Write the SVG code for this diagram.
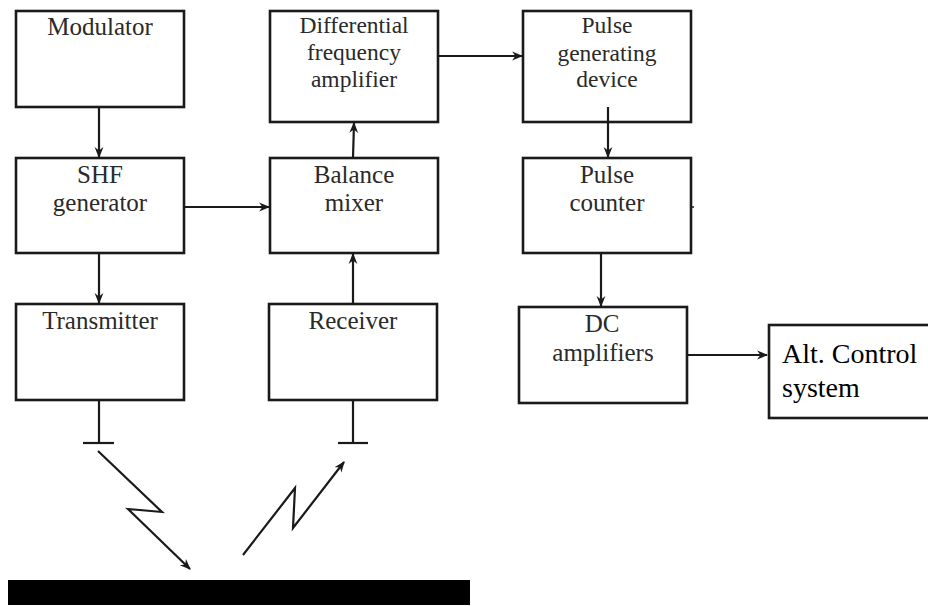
<svg xmlns="http://www.w3.org/2000/svg" width="928" height="606" viewBox="0 0 928 606">
<defs>
<style>
.box{fill:#fff;stroke:#1a1a1a;stroke-width:2.6}
.t{font-family:"Liberation Serif","Times New Roman",serif;font-size:25px;fill:#2a2a2a;text-anchor:middle}
.t3{font-family:"Liberation Serif","Times New Roman",serif;font-size:23.5px;fill:#2a2a2a;text-anchor:middle}
.ta{font-family:"Liberation Serif","Times New Roman",serif;font-size:28px;fill:#000}
.c{fill:none;stroke:#1a1a1a;stroke-width:2.2}
</style>
<marker id="ah" viewBox="0 0 10 10" refX="9" refY="5" markerWidth="11" markerHeight="11" markerUnits="userSpaceOnUse" orient="auto">
<path d="M0,1 L10,5 L0,9 L3,5 Z" fill="#1a1a1a"/>
</marker>
</defs>
<rect width="928" height="606" fill="#fff"/>
<g id="modulator"><rect class="box" x="16" y="11" width="168" height="96"/><text class="t" x="100" y="35">Modulator</text></g>
<g id="shf"><rect class="box" x="16" y="158" width="168" height="95"/><text class="t" x="100" y="183">SHF</text><text class="t" x="100" y="211">generator</text></g>
<g id="transmitter"><rect class="box" x="16" y="304" width="168" height="96"/><text class="t" x="100" y="329">Transmitter</text></g>
<g id="diffamp"><rect class="box" x="270" y="11" width="168" height="111"/><text class="t3" x="354" y="33">Differential</text><text class="t3" x="354" y="60">frequency</text><text class="t3" x="354" y="87">amplifier</text></g>
<g id="mixer"><rect class="box" x="270" y="158" width="168" height="95"/><text class="t" x="354" y="183">Balance</text><text class="t" x="354" y="211">mixer</text></g>
<g id="receiver"><rect class="box" x="269" y="304" width="168" height="96"/><text class="t" x="353" y="329">Receiver</text></g>
<g id="pulsegen"><rect class="box" x="523" y="11" width="168" height="111"/><text class="t3" x="607" y="33">Pulse</text><text class="t3" x="607" y="61">generating</text><text class="t3" x="607" y="87">device</text></g>
<g id="counter"><rect class="box" x="523" y="158" width="168" height="95"/><text class="t" x="607" y="183">Pulse</text><text class="t" x="607" y="211">counter</text><line x1="691" y1="207" x2="694" y2="207" stroke="#1a1a1a" stroke-width="1.5"/></g>
<g id="dcamp"><rect class="box" x="519" y="307" width="168" height="96"/><text class="t" x="602" y="332">DC</text><text class="t" x="603" y="361">amplifiers</text></g>
<g id="altcontrol"><rect class="box" x="769" y="325" width="170" height="93"/><text class="ta" x="782" y="363">Alt. Control</text><text class="ta" x="782" y="397">system</text></g>
<g id="ground"><rect x="8" y="580" width="462" height="25" fill="#000"/></g>
<g id="connectors">
<line class="c" x1="99" y1="107" x2="99" y2="157" marker-end="url(#ah)"/>
<line class="c" x1="184" y1="207" x2="269" y2="207" marker-end="url(#ah)"/>
<line class="c" x1="99" y1="253" x2="99" y2="303" marker-end="url(#ah)"/>
<line class="c" x1="353" y1="158" x2="354" y2="123" marker-end="url(#ah)"/>
<line class="c" x1="353" y1="304" x2="353" y2="254" marker-end="url(#ah)"/>
<line class="c" x1="438" y1="56" x2="522" y2="56" marker-end="url(#ah)"/>
<line class="c" x1="608" y1="107" x2="608" y2="157" marker-end="url(#ah)"/>
<line class="c" x1="601" y1="253" x2="601" y2="306" marker-end="url(#ah)"/>
<line class="c" x1="687" y1="355" x2="767" y2="355" marker-end="url(#ah)"/>
<line class="c" x1="99" y1="400" x2="99" y2="443"/>
<line class="c" x1="83" y1="443" x2="114" y2="443"/>
<line class="c" x1="353" y1="400" x2="353" y2="443"/>
<line class="c" x1="338" y1="443" x2="368" y2="443"/>
<polyline class="c" points="98,451 162,512 128,509 190,569" marker-end="url(#ah)"/>
<polyline class="c" points="243,555 295,488 293,528 344,462" marker-end="url(#ah)"/>
</g>
</svg>
